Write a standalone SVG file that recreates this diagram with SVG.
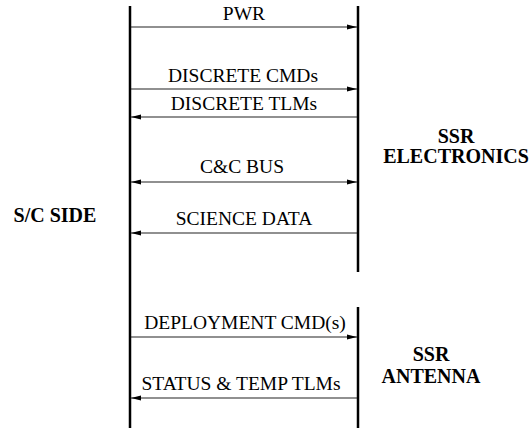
<svg xmlns="http://www.w3.org/2000/svg" width="532" height="429" viewBox="0 0 532 429">
<style>
.lbl{font-family:"Liberation Serif","Times New Roman",serif;font-size:19.5px;fill:#000;text-anchor:middle}
.hd{font-family:"Liberation Serif","Times New Roman",serif;font-size:20px;font-weight:bold;fill:#000;text-anchor:middle}
.bar{stroke:#000;stroke-width:2.5;fill:none}
.arr{stroke:#222;stroke-width:1.2;fill:none}
</style>
<defs>
<marker id="ah" markerUnits="userSpaceOnUse" markerWidth="11" markerHeight="6" refX="10" refY="3" orient="auto-start-reverse">
<path d="M0,0.5 L10,3 L0,5.5 z" fill="#000"/>
</marker>
</defs>
<g id="sc-side">
<line class="bar" x1="130" y1="6" x2="130" y2="428"/>
<text class="hd" x="55" y="222">S/C SIDE</text>
</g>
<g id="ssr-electronics">
<line class="bar" x1="358" y1="6" x2="358" y2="272"/>
<text class="hd" x="456" y="143">SSR</text>
<text class="hd" x="456" y="163">ELECTRONICS</text>
</g>
<g id="ssr-antenna">
<line class="bar" x1="358" y1="307" x2="358" y2="428"/>
<text class="hd" x="431" y="361">SSR</text>
<text class="hd" x="431" y="383">ANTENNA</text>
</g>
<g id="connectors">
<line class="arr" x1="131" y1="27" x2="357" y2="27" marker-end="url(#ah)"/>
<text class="lbl" x="244" y="20">PWR</text>
<line class="arr" x1="131" y1="89" x2="357" y2="89" marker-end="url(#ah)"/>
<text class="lbl" x="243" y="82">DISCRETE CMDs</text>
<line class="arr" x1="357" y1="117" x2="131" y2="117" marker-end="url(#ah)"/>
<text class="lbl" x="244" y="110">DISCRETE TLMs</text>
<line class="arr" x1="131" y1="182" x2="357" y2="182" marker-start="url(#ah)" marker-end="url(#ah)"/>
<text class="lbl" x="242" y="173">C&amp;C BUS</text>
<line class="arr" x1="357" y1="233" x2="131" y2="233" marker-end="url(#ah)"/>
<text class="lbl" x="244" y="225">SCIENCE DATA</text>
<line class="arr" x1="131" y1="337" x2="357" y2="337" marker-end="url(#ah)"/>
<text class="lbl" x="245" y="329">DEPLOYMENT CMD(s)</text>
<line class="arr" x1="357" y1="398" x2="131" y2="398" marker-end="url(#ah)"/>
<text class="lbl" x="241" y="390">STATUS &amp; TEMP TLMs</text>
</g>
</svg>
